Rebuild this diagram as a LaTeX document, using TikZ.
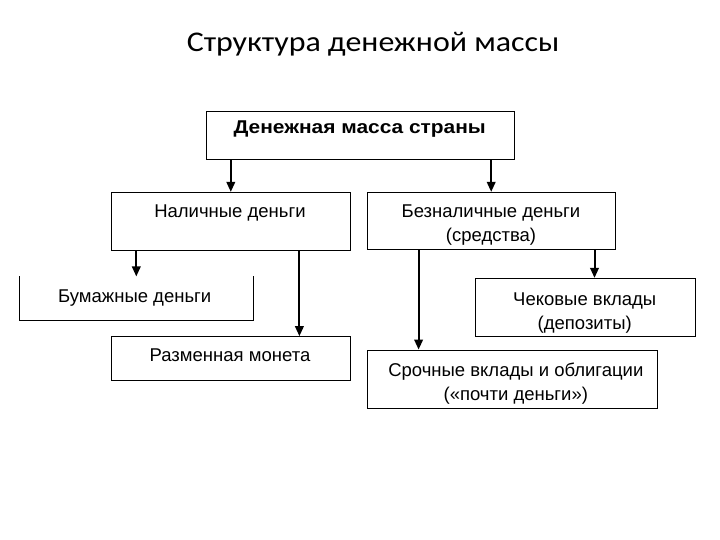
\documentclass[tikz,border=0pt]{standalone}
\usepackage{fontspec}
\setmainfont{Liberation Sans}
\newfontfamily\titlefont{Carlito}
\usetikzlibrary{arrows.meta,calc}
\tikzset{
  box/.style={draw=black, line width=0.9pt, rectangle, inner sep=0pt},
  txt/.style={anchor=base, inner sep=0pt, font=\fontsize{18.5}{22}\selectfont},
  btxt/.style={anchor=base, inner sep=0pt, font=\fontsize{18.5}{22}\selectfont\bfseries},
  arr/.style={line width=2pt, -{Triangle[length=10pt,width=8.5pt]}}
}
\begin{document}
\begin{tikzpicture}[x=1pt,y=-1pt]
\useasboundingbox[fill=white] (0,0) rectangle (720,540);
\node[anchor=base, inner sep=0pt, font=\titlefont\fontsize{28.5}{32}\selectfont] (title) at (373,51.7) {\scalebox{1.12}[1]{Структура денежной массы}};
% boxes
\node[box, minimum width=308pt, minimum height=47.5pt] (top) at (360,135.5) {};
\node[box, minimum width=238.3pt, minimum height=57.7pt] (nal) at (230.8,221.2) {};
\node[box, minimum width=247.7pt, minimum height=56.7pt] (bez) at (491.2,220.7) {};
\node[draw=none, minimum width=234pt, minimum height=43.3pt, inner sep=0pt] (bum) at (136.3,298.3) {};
\draw[line width=0.9pt] (bum.north west) -- (bum.south west) -- (bum.south east) -- (bum.north east);
\node[box, minimum width=238.3pt, minimum height=43.3pt] (razm) at (230.8,358.3) {};
\node[box, minimum width=219.3pt, minimum height=57.7pt] (chek) at (585.3,307.2) {};
\node[box, minimum width=290.4pt, minimum height=58.3pt] (sroch) at (512.5,379.2) {};
% texts
\node[btxt] (ttop) at (359.7,134) {\scalebox{1.13}[1]{Денежная масса страны}};
\node[txt] (tnal) at (230,217.3) {Наличные деньги};
\node[txt] (tbez1) at (491,217.3) {Безналичные деньги};
\node[txt] (tbez2) at (491,241.3) {(средства)};
\node[txt] (tbum) at (134.7,302.7) {Бумажные деньги};
\node[txt] (trazm) at (230,361.7) {Разменная монета};
\node[txt] (tchek1) at (584.7,305) {Чековые вклады};
\node[txt] (tchek2) at (584.7,329.5) {(депозиты)};
\node[txt] (tsroch1) at (515.8,376) {Срочные вклады и облигации};
\node[txt] (tsroch2) at (515.8,400.5) {(«почти деньги»)};
% arrows
\draw[arr] (nal.north |- top.south) -- (nal.north);
\draw[arr] (bez.north |- top.south) -- (bez.north);
\draw[arr] (bum.north |- nal.south) -- (bum.north);
\coordinate (rz) at ($(nal.south east)+(-51,0)$);
\draw[arr] (rz) -- (rz |- razm.north);
\coordinate (ck) at ($(bez.south east)+(-21,0)$);
\draw[arr] (ck) -- (ck |- chek.north);
\coordinate (sr) at ($(bez.south west)+(51.7,0)$);
\draw[arr] (sr) -- (sr |- sroch.north);
\end{tikzpicture}
\end{document}
